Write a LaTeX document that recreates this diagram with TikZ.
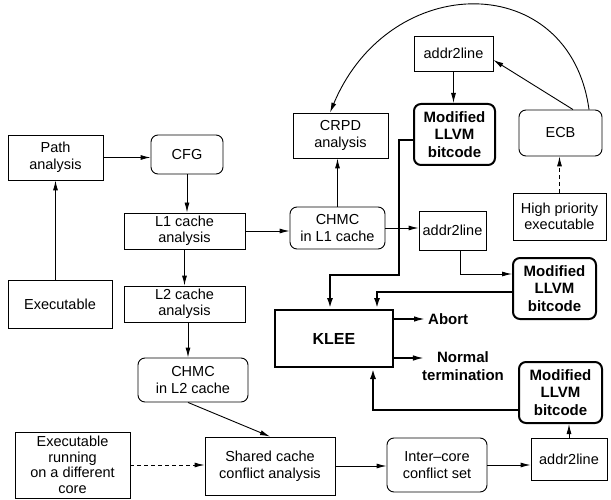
\documentclass[tikz,border=0pt]{standalone}
\usepackage{fontspec}
\setmainfont{Liberation Sans}
\usetikzlibrary{arrows.meta}

\begin{document}
\begin{tikzpicture}[x=1pt,y=-1pt,
  every node/.style={font=\fontsize{14.5}{16.5}\selectfont, align=center, inner sep=0pt},
  tight/.style={font=\fontsize{14.5}{15.5}\selectfont},
  box/.style={draw, line width=0.9pt},
  rbox/.style={box, rounded corners=7pt},
  heavy/.style={draw, line width=2pt, font=\fontsize{15}{17.5}\selectfont\bfseries},
  rheavy/.style={heavy, rounded corners=7pt},
  label/.style={font=\fontsize{15}{17.5}\selectfont\bfseries},
  arr/.style={line width=0.9pt, -{Latex[length=10pt,width=5pt]}},
  marr/.style={line width=1.5pt, -{Latex[length=11pt,width=5.5pt]}},
  tarr/.style={line width=2.4pt, -{Latex[length=11pt,width=6pt]}},
  dsh/.style={dash pattern=on 4pt off 3pt},
]
\useasboundingbox (0,0) rectangle (611,500);

% left column: path and cache analysis
\node[box, minimum width=95pt, minimum height=45pt] (path) at (55.5,157.5) {Path\\analysis};
\node[rbox, minimum width=72pt, minimum height=39pt] (cfg) at (187,154.5) {CFG};
\node[box, tight, minimum width=121pt, minimum height=36pt] (l1) at (184.5,231) {L1 cache\\analysis};
\node[box, minimum width=104pt, minimum height=48pt] (exe) at (60,304) {Executable};
\node[box, tight, minimum width=121pt, minimum height=36pt] (l2) at (184.5,304) {L2 cache\\analysis};
\node[rbox, minimum width=110pt, minimum height=44pt] (chmc2) at (193,380) {CHMC\\in L2 cache};
\node[box, tight, minimum width=115pt, minimum height=66pt] (exeother) at (72.5,465) {Executable\\running\\on a different\\core};
\node[box, minimum width=130pt, minimum height=58pt] (shared) at (270,466) {Shared cache\\conflict analysis};
\node[rbox, minimum width=100pt, minimum height=54pt] (inter) at (437,465) {Inter{\textendash}core\\conflict set};
\node[box, minimum width=76pt, minimum height=42pt] (addrB) at (569,459) {addr2line};

% right part: CRPD, ECB and the LLVM bitcode feeding KLEE
\node[rbox, minimum width=95pt, minimum height=42pt] (chmc1) at (337.5,228) {CHMC\\in L1 cache};
\node[box, minimum width=95pt, minimum height=45pt] (crpd) at (340.5,135.5) {CRPD\\analysis};
\node[box, minimum width=67pt, minimum height=39pt] (addrM) at (452.5,230.5) {addr2line};
\node[box, minimum width=79pt, minimum height=35pt] (addrT) at (453.5,53.5) {addr2line};
\node[rheavy, minimum width=81pt, minimum height=61pt] (modT) at (454.5,134.5) {Modified\\LLVM\\bitcode};
\node[rbox, minimum width=83pt, minimum height=46pt] (ecb) at (560.5,133) {ECB};
\node[box, minimum width=93pt, minimum height=47pt] (hipri) at (559.5,216.5) {High priority\\executable};
\node[rheavy, minimum width=83pt, minimum height=61pt] (modM) at (554.5,288.5) {Modified\\LLVM\\bitcode};
\node[rheavy, minimum width=83pt, minimum height=61pt] (modB) at (560.5,392.5) {Modified\\LLVM\\bitcode};
\node[heavy, font=\fontsize{16}{18}\selectfont\bfseries, minimum width=118pt, minimum height=57pt] (klee) at (334,338.5) {KLEE};
\node[label, anchor=west] (abort) at (428,319) {Abort};
\node[label] (norm) at (463,366) {Normal\\termination};

% anchor points for off-centre connectors
\coordinate (c2in) at ([xshift=-5pt]chmc2.north);
\coordinate (c2out) at ([xshift=-5pt]chmc2.south);
\coordinate (mbout) at ([yshift=-17.5pt]modB.west);
\coordinate (kin3) at ([xshift=39pt]klee.south);
\coordinate (mmout) at ([yshift=-3.5pt]modM.west);
\coordinate (kin2) at ([xshift=43pt]klee.north);
\coordinate (mtout) at ([yshift=-5.5pt]modT.west);
\coordinate (kin1) at ([xshift=-4pt]klee.north);
\coordinate (jog) at (399,275);
\coordinate (abin) at ([xshift=-3pt]abort.west);
\coordinate (normin) at ([xshift=2pt,yshift=8pt]norm.west);
\coordinate (amout) at ([xshift=7.5pt]addrM.south);
\coordinate (mmin) at ([yshift=14.5pt]modM.west);
\coordinate (ecbA) at ([xshift=12.5pt]ecb.north);
\coordinate (atin) at ([yshift=-6.5pt]addrT.east);
\coordinate (ecbB) at ([xshift=28.5pt]ecb.north);
\coordinate (crin) at ([xshift=-10.5pt]crpd.north);

% connectors
\draw[arr] (exe.north -| path.south) -- (path.south);
\draw[arr] (path.east) -- (path.east -| cfg.west);
\draw[arr] (cfg.south) -- (cfg.south |- l1.north);
\draw[arr] (l1.east) -- (l1.east -| chmc1.west);
\draw[arr] (l1.south) -- (l2.north);
\draw[arr] (l2.south -| c2in) -- (c2in);
\draw[arr] (c2out) -- (shared.north);
\draw[arr, dsh] (exeother.east) -- (exeother.east -| shared.west);
\draw[arr] (shared.east) -- (shared.east -| inter.west);
\draw[arr] (inter.east) -- (inter.east -| addrB.west);
\draw[arr] (addrB.north) -- (addrB.north |- modB.south);
\draw[tarr] (mbout) -| (kin3);
\draw[tarr] (mmout) -| (kin2);
\draw[tarr] (mtout) -| (jog) -| (kin1);
\draw[marr] (abin -| klee.east) -- (abin);
\draw[marr] (normin -| klee.east) -- (normin);
\draw[arr] (chmc1.north) -- (chmc1.north |- crpd.south);
\draw[arr] (chmc1.east) -- (chmc1.east -| addrM.west);
\draw[arr] (amout) |- (mmin);
\draw[arr] (addrT.south) -- (addrT.south |- modT.north);
\draw[arr] (ecbA) -- (atin);
\draw[arr, dsh] (hipri.north) -- (hipri.north |- ecb.south);
\draw[arr] (ecbB) .. controls +(-19,-140) and +(60,-143) .. (crin);
\end{tikzpicture}
\end{document}
